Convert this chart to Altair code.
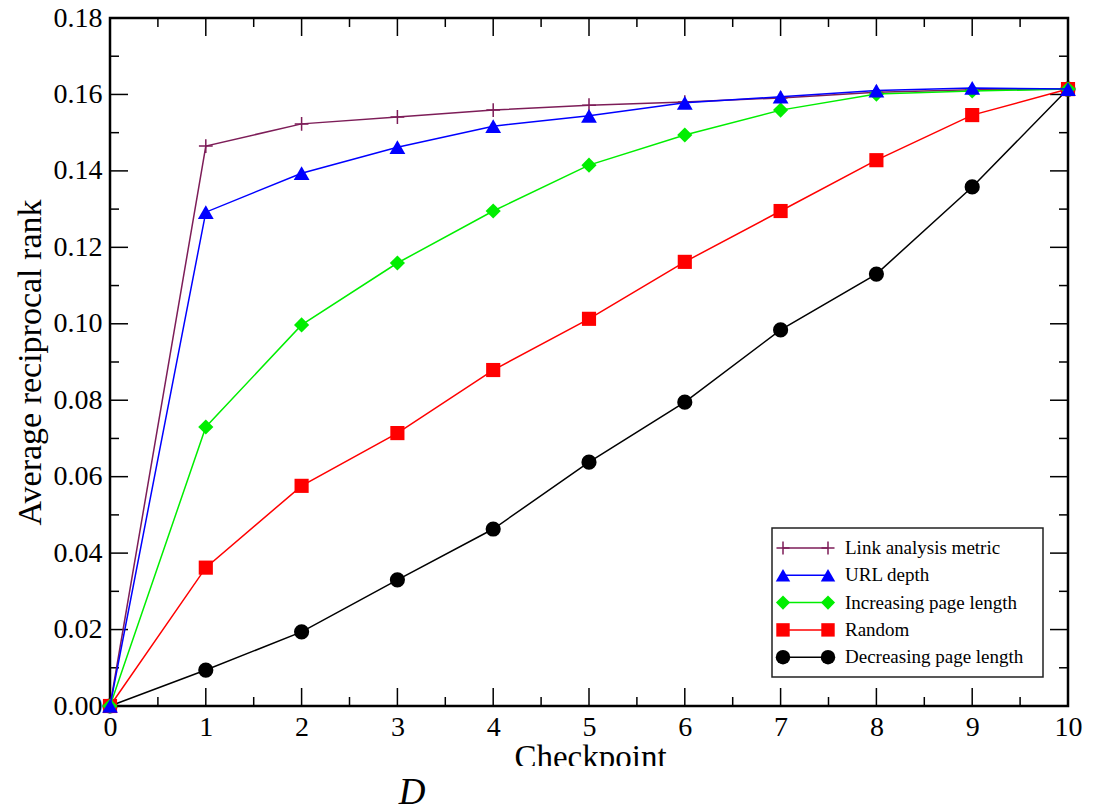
import altair as alt
import pandas as pd

# ---------------- data ----------------
checkpoints = [0, 1, 2, 3, 4, 5, 6, 7, 8, 9, 10]
series_names = ["Link analysis metric", "URL depth", "Increasing page length",
                "Random", "Decreasing page length"]
link_values = [0.0, 0.1465, 0.1523, 0.1541, 0.1559, 0.1572, 0.1580, 0.1591, 0.1606, 0.1612, 0.1614]
url_values = [0.0, 0.1292, 0.1394, 0.1462, 0.1517, 0.1544, 0.1578, 0.1594, 0.1610, 0.1617, 0.1614]
inc_values = [0.0, 0.0730, 0.0997, 0.1159, 0.1295, 0.1415, 0.1494, 0.1559, 0.1601, 0.1609, 0.1614]
rnd_values = [0.0, 0.0362, 0.0576, 0.0714, 0.0879, 0.1013, 0.1162, 0.1295, 0.1428, 0.1546, 0.1614]
dec_values = [0.0, 0.0094, 0.0194, 0.0330, 0.0463, 0.0638, 0.0795, 0.0984, 0.1130, 0.1358, 0.1614]
series_values = [link_values, url_values, inc_values, rnd_values, dec_values]

x_major = [0, 1, 2, 3, 4, 5, 6, 7, 8, 9, 10]
x_minor = [0.5, 1.5, 2.5, 3.5, 4.5, 5.5, 6.5, 7.5, 8.5, 9.5]
y_major = [0.0, 0.02, 0.04, 0.06, 0.08, 0.10, 0.12, 0.14, 0.16, 0.18]
y_minor = [0.01, 0.03, 0.05, 0.07, 0.09, 0.11, 0.13, 0.15, 0.17]

x_title = "Checkpoint"
y_title = "Average reciprocal rank"
panel_label = "D"

# ---------------- styles ----------------
FONT = "Liberation Serif"
W, H = 958, 688
colors = ["#7d1d58", "#0000ff", "#00ee00", "#ff0000", "#000000"]
PLUS = "M-1,0L1,0M0,-1L0,1"
shapes = [PLUS, "triangle-up", "diamond", "square", "circle"]
sizes = [190, 250, 230, 200, 230]
legend_sizes = [170, 210, 200, 180, 210]
draw_order = [0, 4, 3, 2, 1]

xs = alt.Scale(domain=[0, 10], nice=False, zero=False)
ys = alt.Scale(domain=[0, 0.18], nice=False, zero=False)

x_axis = alt.Axis(values=x_major, format="d", ticks=False, domain=False, grid=False,
                  labelFont=FONT, labelFontSize=28, labelColor="black", labelPadding=7,
                  labelFlush=False, labelOverlap=False,
                  title=x_title, titleFont=FONT, titleFontSize=33, titleFontWeight="normal",
                  titleColor="black", titleX=480, titleY=61, titleBaseline="alphabetic",
                  titleAlign="center")
y_axis = alt.Axis(values=y_major, format=".2f", ticks=False, domain=False, grid=False,
                  labelFont=FONT, labelFontSize=28, labelColor="black", labelPadding=8,
                  labelFlush=False, labelOverlap=False,
                  title=y_title, titleFont=FONT, titleFontSize=34, titleFontWeight="normal",
                  titleColor="black", titleAngle=270, titleX=-70, titleY=H / 2,
                  titleBaseline="alphabetic", titleAlign="center")


def X(field="x"):
    return alt.X(f"{field}:Q", scale=xs, axis=x_axis)


def Y(field="y"):
    return alt.Y(f"{field}:Q", scale=ys, axis=y_axis)


layers = []

# inward tick marks (major and minor) on all four sides
def ytick(values, length, right):
    df = pd.DataFrame({"y": values})
    xa, xb = (W - length, W) if right else (0, length)
    return alt.Chart(df).mark_rule(color="black", strokeWidth=1.5).encode(
        y=Y(), x=alt.value(xa), x2=alt.value(xb))


def xtick(values, length, top):
    df = pd.DataFrame({"x": values})
    ya, yb = (0, length) if top else (H - length, H)
    return alt.Chart(df).mark_rule(color="black", strokeWidth=1.5).encode(
        x=X(), y=alt.value(ya), y2=alt.value(yb))


for side in (False, True):
    layers.append(ytick(y_major, 18, side))
    layers.append(ytick(y_minor, 9, side))
    layers.append(xtick(x_major, 18, side))
    layers.append(xtick(x_minor, 9, side))

# series
for i in draw_order:
    df = pd.DataFrame({"x": checkpoints, "y": series_values[i]})
    layers.append(
        alt.Chart(df).mark_line(color=colors[i], strokeWidth=1.5).encode(x=X(), y=Y())
    )
    filled = shapes[i] != PLUS
    layers.append(
        alt.Chart(df).mark_point(shape=shapes[i], size=sizes[i], filled=filled,
                                 color=colors[i], opacity=1,
                                 strokeWidth=1.5 if not filled else 0).encode(x=X(), y=Y())
    )

# legend box (inside plot, bottom right)
LX0, LX1, LY0, LY1 = 662, 933, 510, 659
layers.append(
    alt.Chart(pd.DataFrame({"a": [0]})).mark_rect(fill="white", stroke="#222", strokeWidth=1.5).encode(
        x=alt.value(LX0), x2=alt.value(LX1), y=alt.value(LY0), y2=alt.value(LY1))
)
for i, name in enumerate(series_names):
    ry = 530 + i * 27.3
    d = pd.DataFrame({"a": [0]})
    layers.append(
        alt.Chart(d).mark_rule(color=colors[i], strokeWidth=1.5).encode(
            x=alt.value(673), x2=alt.value(718), y=alt.value(ry))
    )
    filled = shapes[i] != PLUS
    for lx in (673, 718):
        layers.append(
            alt.Chart(d).mark_point(shape=shapes[i], size=legend_sizes[i], filled=filled,
                                    color=colors[i], opacity=1,
                                    strokeWidth=1.5 if not filled else 0).encode(
                x=alt.value(lx), y=alt.value(ry))
        )
    layers.append(
        alt.Chart(pd.DataFrame({"t": [name]})).mark_text(
            font=FONT, fontSize=19, color="black", align="left", baseline="middle").encode(
            x=alt.value(735), y=alt.value(ry), text="t:N")
    )

# cut-off of the x title (as in the cropped original)
layers.append(
    alt.Chart(pd.DataFrame({"a": [0]})).mark_rect(fill="white").encode(
        x=alt.value(380), x2=alt.value(600), y=alt.value(748), y2=alt.value(776))
)

# panel letter
layers.append(
    alt.Chart(pd.DataFrame({"t": [panel_label]})).mark_text(
        font=FONT, fontSize=37, fontStyle="italic", color="black",
        align="center", baseline="alphabetic").encode(
        x=alt.value(302), y=alt.value(786), text="t:N")
)

chart = alt.layer(*layers).properties(
    width=W, height=H,
    autosize=alt.AutoSizeParams(type="none"),
    padding={"left": 102, "top": 10, "right": 17, "bottom": 102},
    background="white",
).configure_view(stroke="black", strokeWidth=2.5)

chart.save("out.html", embed_options={"renderer": "svg", "actions": False})
